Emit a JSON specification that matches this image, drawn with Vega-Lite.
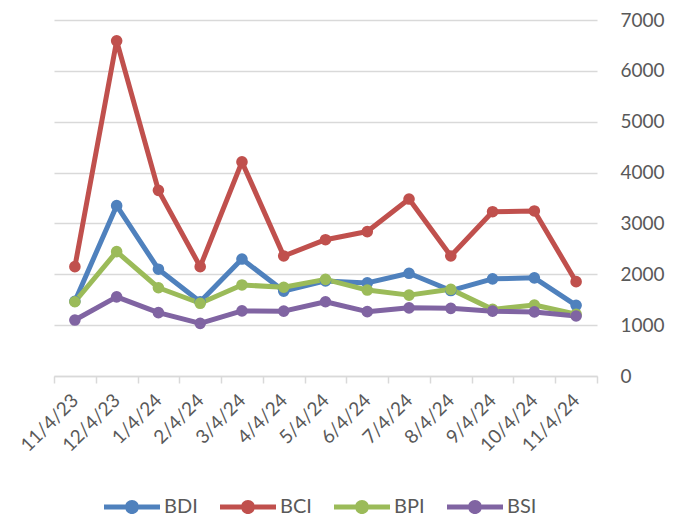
{
  "$schema": "https://vega.github.io/schema/vega-lite/v6.json",
  "autosize": "none",
  "width": 543,
  "height": 356,
  "padding": {"left": 54, "top": 20, "right": 89, "bottom": 142},
  "background": "white",
  "config": {
    "view": {"stroke": null},
    "font": "Lato"
  },
  "data": {
    "values": [
      {"date": "11/4/23", "series": "BDI", "value": 1470},
      {"date": "12/4/23", "series": "BDI", "value": 3350},
      {"date": "1/4/24", "series": "BDI", "value": 2100},
      {"date": "2/4/24", "series": "BDI", "value": 1460},
      {"date": "3/4/24", "series": "BDI", "value": 2300},
      {"date": "4/4/24", "series": "BDI", "value": 1670},
      {"date": "5/4/24", "series": "BDI", "value": 1870},
      {"date": "6/4/24", "series": "BDI", "value": 1830},
      {"date": "7/4/24", "series": "BDI", "value": 2020},
      {"date": "8/4/24", "series": "BDI", "value": 1680},
      {"date": "9/4/24", "series": "BDI", "value": 1910},
      {"date": "10/4/24", "series": "BDI", "value": 1930},
      {"date": "11/4/24", "series": "BDI", "value": 1390},
      {"date": "11/4/23", "series": "BCI", "value": 2150},
      {"date": "12/4/23", "series": "BCI", "value": 6590},
      {"date": "1/4/24", "series": "BCI", "value": 3650},
      {"date": "2/4/24", "series": "BCI", "value": 2150},
      {"date": "3/4/24", "series": "BCI", "value": 4210},
      {"date": "4/4/24", "series": "BCI", "value": 2360},
      {"date": "5/4/24", "series": "BCI", "value": 2680},
      {"date": "6/4/24", "series": "BCI", "value": 2840},
      {"date": "7/4/24", "series": "BCI", "value": 3480},
      {"date": "8/4/24", "series": "BCI", "value": 2360},
      {"date": "9/4/24", "series": "BCI", "value": 3230},
      {"date": "10/4/24", "series": "BCI", "value": 3245},
      {"date": "11/4/24", "series": "BCI", "value": 1855},
      {"date": "11/4/23", "series": "BPI", "value": 1460},
      {"date": "12/4/23", "series": "BPI", "value": 2445},
      {"date": "1/4/24", "series": "BPI", "value": 1735},
      {"date": "2/4/24", "series": "BPI", "value": 1430},
      {"date": "3/4/24", "series": "BPI", "value": 1790},
      {"date": "4/4/24", "series": "BPI", "value": 1745},
      {"date": "5/4/24", "series": "BPI", "value": 1900},
      {"date": "6/4/24", "series": "BPI", "value": 1690},
      {"date": "7/4/24", "series": "BPI", "value": 1590},
      {"date": "8/4/24", "series": "BPI", "value": 1705},
      {"date": "9/4/24", "series": "BPI", "value": 1310},
      {"date": "10/4/24", "series": "BPI", "value": 1395},
      {"date": "11/4/24", "series": "BPI", "value": 1215},
      {"date": "11/4/23", "series": "BSI", "value": 1100},
      {"date": "12/4/23", "series": "BSI", "value": 1555},
      {"date": "1/4/24", "series": "BSI", "value": 1245},
      {"date": "2/4/24", "series": "BSI", "value": 1035},
      {"date": "3/4/24", "series": "BSI", "value": 1280},
      {"date": "4/4/24", "series": "BSI", "value": 1275},
      {"date": "5/4/24", "series": "BSI", "value": 1460},
      {"date": "6/4/24", "series": "BSI", "value": 1265},
      {"date": "7/4/24", "series": "BSI", "value": 1340},
      {"date": "8/4/24", "series": "BSI", "value": 1330},
      {"date": "9/4/24", "series": "BSI", "value": 1275},
      {"date": "10/4/24", "series": "BSI", "value": 1260},
      {"date": "11/4/24", "series": "BSI", "value": 1180}
    ]
  },
  "encoding": {
    "x": {
      "field": "date",
      "type": "nominal",
      "sort": null,
      "scale": {"type": "band", "paddingInner": 0, "paddingOuter": 0},
      "axis": {
        "title": null,
        "labelAngle": -45,
        "labelAlign": "right",
        "labelBaseline": "middle",
        "labelFontSize": 19,
        "labelColor": "#595959",
        "labelPadding": 14,
        "labelDx": 3,
        "tickBand": "extent",
        "tickColor": "#D9D9D9",
        "tickWidth": 1.5,
        "tickSize": 7,
        "domainColor": "#D9D9D9",
        "domainWidth": 1.5,
        "grid": false
      }
    },
    "y": {
      "field": "value",
      "type": "quantitative",
      "scale": {"domain": [0, 7000], "nice": false},
      "axis": {
        "title": null,
        "orient": "right",
        "values": [0, 1000, 2000, 3000, 4000, 5000, 6000, 7000],
        "format": "d",
        "domain": false,
        "ticks": false,
        "tickSize": 0,
        "labelPadding": 23,
        "labelAlign": "left",
        "labelFontSize": 19,
        "labelColor": "#595959",
        "gridColor": "#D9D9D9",
        "gridWidth": 1.5
      }
    },
    "color": {
      "field": "series",
      "type": "nominal",
      "sort": null,
      "scale": {
        "domain": ["BDI", "BCI", "BPI", "BSI"],
        "range": ["#4F81BD", "#C0504D", "#9BBB59", "#8064A2"]
      },
      "legend": {
        "title": null,
        "orient": "none",
        "direction": "horizontal",
        "legendX": 50,
        "legendY": 459,
        "symbolType": "M-1,-0.09H-0.24V0.09H-1Z M0.24,-0.09H1V0.09H0.24Z M0.25,0A0.25,0.25 0 1,1 -0.25,0A0.25,0.25 0 1,1 0.25,0Z",
        "symbolSize": 3136,
        "symbolStrokeWidth": 0,
        "labelFontSize": 20,
        "labelColor": "#595959",
        "labelOffset": 4,
        "columnPadding": 22,
        "encode": {
          "symbols": {
            "update": {
              "fill": {"scale": "color", "field": "value"},
              "opacity": {"value": 1}
            }
          }
        }
      }
    }
  },
  "layer": [
    {
      "mark": {"type": "line", "strokeWidth": 5, "strokeCap": "round", "strokeJoin": "round"}
    },
    {
      "mark": {"type": "point", "filled": true, "size": 135, "opacity": 1}
    }
  ]
}
